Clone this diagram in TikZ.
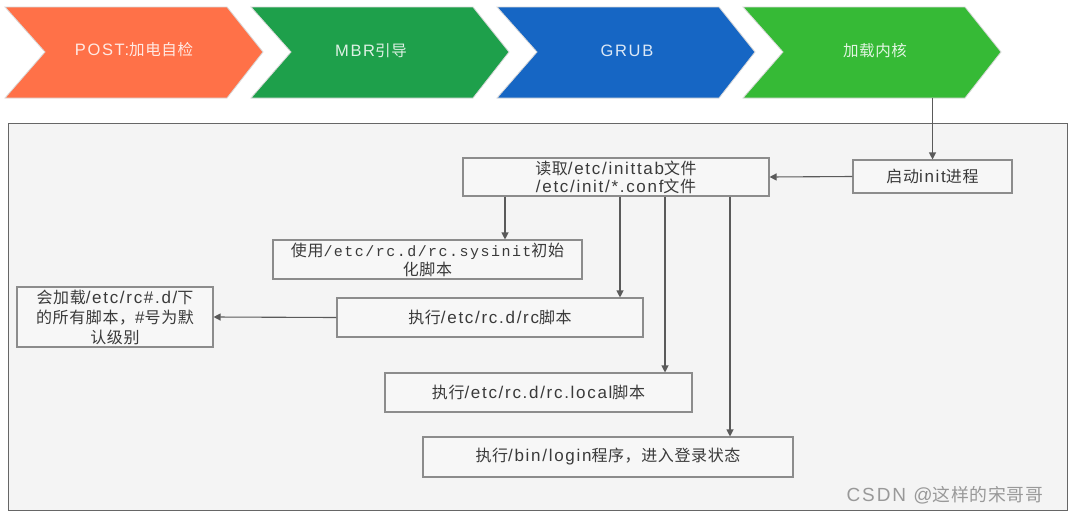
\documentclass[tikz,border=0pt]{standalone}
\usepackage{fontspec}
\setmainfont{Liberation Sans}[LetterSpace=10]
\newfontfamily\cjk{Noto Sans CJK SC}[Scale=0.94,LetterSpace=4]
\newfontfamily\monof{Liberation Mono}[Scale=0.88,LetterSpace=10]
\usetikzlibrary{arrows.meta,shadows}
\newcommand\zh[1]{{\cjk #1}}
\definecolor{corange}{HTML}{FF7148}
\definecolor{cdgreen}{HTML}{1EA04B}
\definecolor{cblue}{HTML}{1666C4}
\definecolor{cbgreen}{HTML}{36BA36}
\definecolor{boxline}{HTML}{8C8C8C}
\definecolor{arrowc}{HTML}{5A5A5A}
\definecolor{panel}{HTML}{F4F4F4}
\definecolor{boxtext}{HTML}{3A3A3A}
\begin{document}
\begin{tikzpicture}[x=1pt,y=-1pt,
  chev/.style={draw=white!85!black, line width=0.8pt},
  chevtext/.style={text=white, opacity=0.85, font=\fontsize{16.5}{18}\selectfont, inner sep=0pt},
  stepbox/.style={draw=boxline, line width=1.1pt, fill=white!97!black, align=center,
    text=boxtext, font=\fontsize{17}{18}\selectfont, inner sep=1pt,
    drop shadow={shadow xshift=1.2pt, shadow yshift=-1.2pt, fill=black, opacity=0.15}},
  arr/.style={draw=arrowc, line width=1.1pt, -{Triangle[length=7pt,width=7pt]}}
]
\useasboundingbox (0,0) rectangle (1070,514);
\fill[white] (0,0) rectangle (1070,514);
% outer panel
\draw[fill=panel, draw=black!60, line width=1pt] (8,123) rectangle (1067,510);

% chevrons
\foreach \s/\c in {5/corange,251/cdgreen,497/cblue,743/cbgreen}{
  \fill[\c, chev] (\s,7) -- ({\s+222},7) -- ({\s+258},52) -- ({\s+222},98) -- (\s,98) -- ({\s+40},52) -- cycle;
}
\node[chevtext] (c1) at (134,50) {POST:\zh{加电自检}};
\node[chevtext] (c2) at (371,51) {MBR\zh{引导}};
\node[chevtext] (c3) at (627,51) {GRUB};
\node[chevtext] (c4) at (875,51) {\zh{加载内核}};
\coordinate (c4b) at (932.5,98);

% boxes
\node[stepbox, minimum width=159pt, minimum height=33pt] (init) at (932.5,176.5) {\zh{启动}init\zh{进程}};
\node[stepbox, minimum width=306pt, minimum height=38pt] (read) at (616,177)
  {\zh{读取}/etc/inittab\zh{文件}\\/etc/init/*.conf\zh{文件}};
\node[stepbox, minimum width=309pt, minimum height=39pt, font=\fontsize{17}{19}\selectfont] (sysinit) at (427.5,259.5)
  {\zh{使用}{\monof /etc/rc.d/rc.sysinit}\zh{初始}\\\zh{化脚本}};
\node[stepbox, minimum width=306pt, minimum height=39pt] (rc) at (490,317.5) {\zh{执行}/etc/rc.d/rc\zh{脚本}};
\node[stepbox, minimum width=307pt, minimum height=39pt] (local) at (538.5,392.5) {\zh{执行}/etc/rc.d/rc.local\zh{脚本}};
\node[stepbox, minimum width=370pt, minimum height=40pt] (login) at (608,457) {\zh{执行}/bin/login\zh{程序，进入登录状态}};
\node[stepbox, minimum width=196pt, minimum height=60pt, font=\fontsize{17}{20}\selectfont] (rcd) at (115,317)
  {\zh{会加载}/etc/rc\#.d/\zh{下}\\\zh{的所有脚本，}\#\zh{号为默}\\\zh{认级别}};

% connectors
\draw[arr] (c4b) -- (c4b |- init.north);
\draw[arr] (init.west) -- (read.east);
\coordinate (x1) at (505,0);
\coordinate (x2) at (620,0);
\coordinate (x3) at (665,0);
\coordinate (x4) at (730,0);
\draw[arr] (x1 |- read.south) -- (x1 |- sysinit.north);
\draw[arr] (x2 |- read.south) -- (x2 |- rc.north);
\draw[arr] (x3 |- read.south) -- (x3 |- local.north);
\draw[arr] (x4 |- read.south) -- (x4 |- login.north);
\draw[arr] (rc.west) -- (rcd.east);

% watermark
\node[text=black!40, font=\fontsize{19}{21}\selectfont, inner sep=0pt] (wm) at (945,495) {CSDN @\zh{这样的宋哥哥}};
\end{tikzpicture}
\end{document}
